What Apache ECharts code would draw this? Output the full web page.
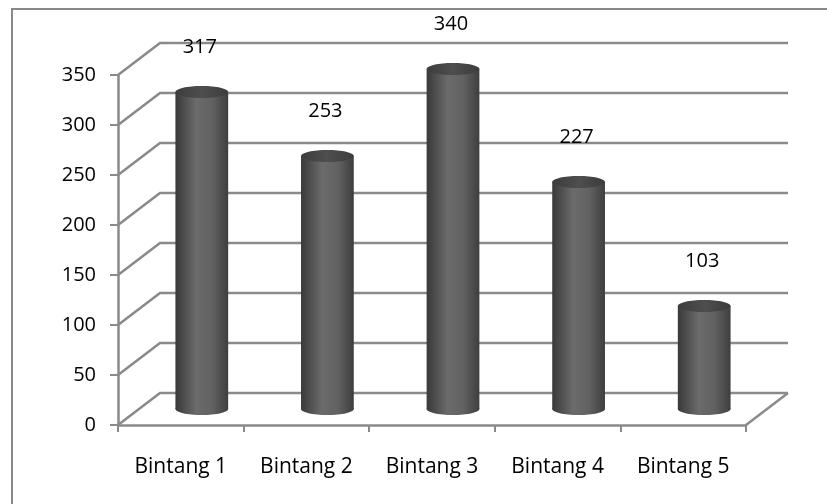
<!DOCTYPE html>
<html>
<head>
<meta charset="utf-8">
<script src="https://cdn.jsdelivr.net/npm/echarts@6/dist/echarts.min.js"></script>
<style>
  html, body { margin: 0; padding: 0; background: #fff; }
  #chart { width: 827px; height: 504px; }
</style>
</head>
<body>
<div id="chart"></div>
<script>
// data
var categories = ['Bintang 1', 'Bintang 2', 'Bintang 3', 'Bintang 4', 'Bintang 5'];
var values = [317, 253, 340, 227, 103];
var yTicks = [0, 50, 100, 150, 200, 250, 300, 350];

// 3D depth offset (px) of the back wall
var DX = 42, DY = -32;
var LINE = '#8a8a8a';
var FONT = 'Open Sans';

var chart = echarts.init(document.getElementById('chart'));

// back wall + floor lines
function renderWall(params, api) {
    var v = api.value(1);
    var cs = params.coordSys;
    var x0 = cs.x, x1 = cs.x + cs.width;
    var y = api.coord([0, v])[1];
    var children = [{
        type: 'polyline',
        shape: { points: [[x0, y], [x0 + DX, y + DY], [x1 + DX, y + DY]] },
        style: { stroke: LINE, lineWidth: 2.5, fill: null }
    }];
    if (v === 0) {
        children.push({
            type: 'line',
            shape: { x1: x1, y1: y, x2: x1 + DX, y2: y + DY },
            style: { stroke: LINE, lineWidth: 2.5 }
        });
    }
    return { type: 'group', children: children };
}

// cylinders
function renderCylinder(params, api) {
    var idx = api.value(0);
    var v = api.value(1);
    var base = api.coord([idx, 0]);
    var top = api.coord([idx, v]);
    var bw = api.size([1, 0])[0];
    var cx = base[0] + DX / 2;
    var rx = bw * 0.21;
    var ry = 6;
    var by = base[1] + DY / 2;
    var ty = top[1] + DY / 2;
    var bodyFill = new echarts.graphic.LinearGradient(0, 0, 1, 0, [
        { offset: 0, color: '#393939' },
        { offset: 0.4, color: '#6b6b6b' },
        { offset: 0.7, color: '#616161' },
        { offset: 1, color: '#3e3e3e' }
    ]);
    var topFill = new echarts.graphic.LinearGradient(0, 0, 1, 0, [
        { offset: 0, color: '#3c3c3c' },
        { offset: 0.5, color: '#4e4e4e' },
        { offset: 1, color: '#3c3c3c' }
    ]);
    return {
        type: 'group',
        children: [{
            type: 'ellipse',
            shape: { cx: cx, cy: by, rx: rx, ry: ry },
            style: { fill: bodyFill }
        }, {
            type: 'rect',
            shape: { x: cx - rx, y: ty, width: rx * 2, height: by - ty },
            style: { fill: bodyFill }
        }, {
            type: 'ellipse',
            shape: { cx: cx, cy: ty, rx: rx, ry: ry },
            style: { fill: topFill }
        }, {
            type: 'text',
            style: {
                text: String(v),
                x: cx - 2, y: ty - 45,
                textAlign: 'center', textVerticalAlign: 'middle',
                font: '20px "' + FONT + '"',
                fill: '#000'
            }
        }]
    };
}

chart.setOption({
    animation: false,
    backgroundColor: '#fff',
    graphic: [{
        type: 'rect',
        shape: { x: 12, y: 9, width: 900, height: 600 },
        style: { fill: null, stroke: '#888', lineWidth: 2 },
        z: 0
    }],
    grid: {
        left: 118,
        right: 81,
        top: 75,
        bottom: 79
    },
    xAxis: {
        type: 'category',
        data: categories,
        boundaryGap: true,
        axisLine: { lineStyle: { color: LINE, width: 2.5 } },
        axisTick: { show: true, length: 7, interval: 0, lineStyle: { color: LINE, width: 2 } },
        axisLabel: {
            margin: 32,
            fontFamily: FONT,
            fontSize: 21,
            color: '#000'
        },
        splitLine: { show: false }
    },
    yAxis: {
        type: 'value',
        min: yTicks[0],
        max: yTicks[yTicks.length - 1],
        interval: 50,
        axisLine: { show: true, lineStyle: { color: LINE, width: 2.5 } },
        axisTick: { show: true, length: 8, lineStyle: { color: LINE, width: 2 } },
        axisLabel: {
            margin: 22,
            fontFamily: FONT,
            fontSize: 20,
            color: '#000'
        },
        splitLine: { show: false }
    },
    series: [{
        type: 'custom',
        name: 'wall',
        renderItem: renderWall,
        data: yTicks.map(function (t) { return [0, t]; }),
        z: 1,
        silent: true
    }, {
        type: 'custom',
        name: 'Bintang',
        renderItem: renderCylinder,
        data: values.map(function (v, i) { return [i, v]; }),
        z: 3
    }]
});
</script>
</body>
</html>
